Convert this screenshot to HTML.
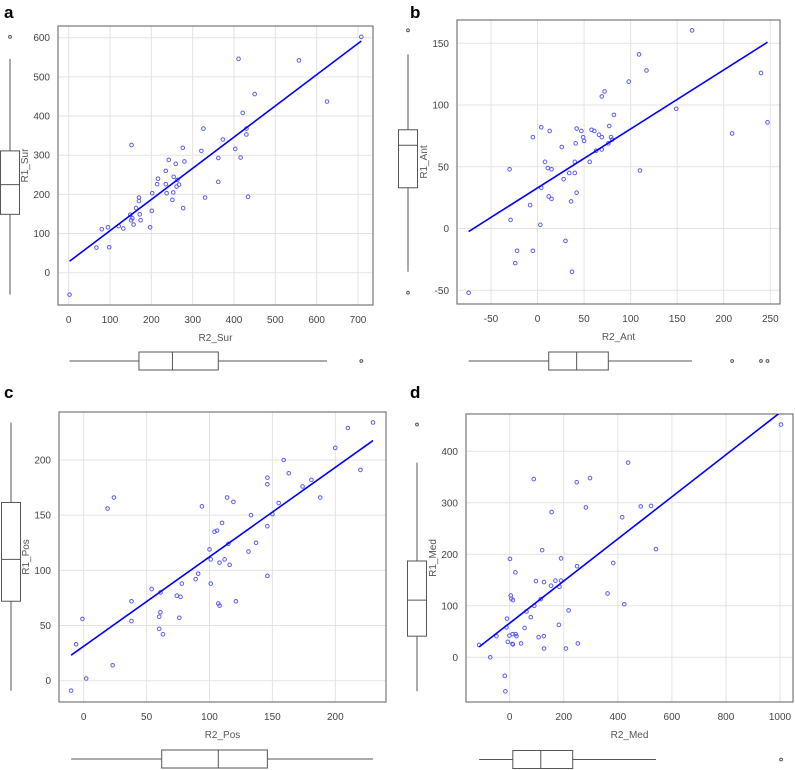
<!DOCTYPE html>
<html><head><meta charset="utf-8"><style>
html,body{margin:0;padding:0;background:#fff;}
svg{display:block;font-family:"Liberation Sans",sans-serif;}
</style></head><body>
<svg id="chart" width="795" height="770" viewBox="0 0 795 770"></svg>
<script>
const aX=[708,411,557,450,625,421,152,326,373,430,430,276,321,403,362,416,242,280,259,235,216,254,214,235,267,263,261,237,253,202,251,362,330,434,277,170,170,163,201,149,172,154,151,174,157,132,121,95,80,197,67,98,2];
const aY=[602,546,542,456,437,408,326,368,340,368,353,319,311,316,293,294,288,284,278,260,240,245,226,226,225,237,220,203,205,203,186,232,192,194,165,192,183,165,158,148,149,139,134,134,123,113,119,116,111,116,64,65,-56];
const bX=[166,109,117,240,98,72,69,149,247,209,82,77,58,61,42,4,13,47,66,-5,49,69,79,50,80,76,41,26,63,69,56,8,40,-30,11,15,110,34,40,28,4,42,12,15,36,-8,-29,3,30,-22,-5,-24,37,-74];
const bY=[160.5,141,128,126,119,111,107,97,86,77,92,83,80,79,81,82,79,79,76,74,74,74,74,71,72,69,69,66,63,64,54,54,54,48,49,48,47,45,45,40,33,29,26,24,22,19,7,3,-10,-18,-18,-28,-35,-52];
const cX=[230,210,200,159,220,163,146,181,146,174,188,24,114,19,119,155,94,133,150,110,146,106,104,115,137,100,131,101,112,108,116,91,89,146,101,78,54,61,74,77,38,121,107,108,61,60,76,38,-1,60,63,-6,23,2,-10];
const cY=[234,229,211,200,191,188,184,182,178,176,166,166,166,156,162,161,158,150,151,143,140,136,135,124,125,119,117,110,110,107,105,97,92,95,88,88,83,80,77,76,72,72,70,68,62,58,57,54,56,47,42,33,14,2,-9];
const dX=[1004,438,89,248,297,282,485,523,155,416,541,120,1,190,249,383,21,97,127,169,190,153,184,362,4,6,12,115,424,91,218,62,78,-10,182,-12,55,-1,11,22,25,-49,107,126,42,-7,10,12,252,127,208,-113,-72,-18,-16];
const dY=[452,378,346,340,348,291,293,294,282,272,210,208,191,192,177,183,165,148,146,149,149,139,137,124,120,114,111,113,103,100,91,89,78,75,63,58,57,42,45,45,41,41,39,41,27,30,26,25,27,17,17,24,0,-36,-66];
const aXTicks=[0,100,200,300,400,500,600,700], aYTicks=[0,100,200,300,400,500,600];
const bXTicks=[-50,0,50,100,150,200,250], bYTicks=[-50,0,50,100,150];
const cXTicks=[0,50,100,150,200], cYTicks=[0,50,100,150,200];
const dXTicks=[0,200,400,600,800,1000], dYTicks=[0,100,200,300,400];

const NS="http://www.w3.org/2000/svg";
const svg=document.getElementById('chart');
function mk(tag,attrs,parent){const e=document.createElementNS(NS,tag);for(const k in attrs)e.setAttribute(k,attrs[k]);(parent||svg).appendChild(e);return e;}
function lin(d0,d1,p0,p1){return v=>p0+(v-d0)*(p1-p0)/(d1-d0);}
function med(s){const n=s.length,h=Math.floor(n/2);return n%2?s[h]:(s[h-1]+s[h])/2;}
function bstats(arr){const s=[...arr].sort((a,b)=>a-b);const n=s.length;
 const n4=Math.floor((n+3)/2)/2;
 const d=[1,n4,(n+1)/2,n+1-n4,n];
 const at=p=>0.5*(s[Math.floor(p)-1]+s[Math.ceil(p)-1]);
 const q1=at(d[1]),m=at(d[2]),q3=at(d[3]),iqr=q3-q1;
 const inn=s.filter(v=>v>=q1-1.5*iqr&&v<=q3+1.5*iqr);return{q1,q3,m,lo:inn[0],hi:inn[inn.length-1],out:s.filter(v=>v<q1-1.5*iqr||v>q3+1.5*iqr)};}

const panels=[
 {id:'a',X:aX,Y:aY,xt:aXTicks,yt:aYTicks,box:[58,26,373,305],sx:lin(0,700,68.7,358),sy:lin(0,600,272.7,37.7),lbx:'R2_Sur',lby:'R1_Sur',lcx:10,bcy:361,letter:[4,18]},
 {id:'b',X:bX,Y:bY,xt:bXTicks,yt:bYTicks,box:[457,20,780,304],sx:lin(-50,250,491,770.3),sy:lin(-50,150,290.3,43.3),lbx:'R2_Ant',lby:'R1_Ant',lcx:408,bcy:361,letter:[410,18]},
 {id:'c',X:cX,Y:cY,xt:cXTicks,yt:cYTicks,box:[59,412,386,702],sx:lin(0,200,83.7,335.3),sy:lin(0,200,680.7,460),lbx:'R2_Pos',lby:'R1_Pos',lcx:11,bcy:759,letter:[4,398]},
 {id:'d',X:dX,Y:dY,xt:dXTicks,yt:dYTicks,box:[466,414,793,702],sx:lin(0,1000,509.7,780),sy:lin(0,400,657.3,451.3),lbx:'R2_Med',lby:'R1_Med',lcx:417,bcy:759.5,letter:[410,398]}
];

panels.forEach(P=>{
 const g=mk('g',{});
 
 
 const [x0,y0,x1,y1]=P.box;
 const lt=mk('text',{x:P.letter[0],y:P.letter[1],'font-size':17,'font-weight':'bold',fill:'#000'},g);lt.textContent=P.id;
 
 
 P.xt.forEach(t=>{const x=P.sx(t);
  const gl=mk('line',{x1:x,x2:x,y1:y0,y2:y1,stroke:'#e3e3e3','stroke-width':1},g);
  
  
  const tl=mk('text',{x:x,y:y1+18,'font-size':10,fill:'#444','text-anchor':'middle'},g);tl.textContent=t;
  
  
 });
 P.yt.forEach(t=>{const y=P.sy(t);
  const gl=mk('line',{x1:x0,x2:x1,y1:y,y2:y,stroke:'#e3e3e3','stroke-width':1},g);
  
  
  const tl=mk('text',{x:x0-8,y:y+3.5,'font-size':10,fill:'#444','text-anchor':'end'},g);tl.textContent=t;
  
  
 });
 const fr=mk('rect',{x:x0,y:y0,width:x1-x0,height:y1-y0,fill:'none',stroke:'#777','stroke-width':1.2},g);
 
 
 P.X.forEach((v,i)=>{
  const c=mk('circle',{cx:P.sx(v),cy:P.sy(P.Y[i]),r:1.8,fill:'none',stroke:'#5a5aff','stroke-width':1},g);
  
  
 });
 const n=P.X.length;let mx=0,my=0;P.X.forEach((v,i)=>{mx+=v;my+=P.Y[i];});mx/=n;my/=n;
 let sxy=0,sxx=0;P.X.forEach((v,i)=>{sxy+=(v-mx)*(P.Y[i]-my);sxx+=(v-mx)*(v-mx);});
 const b=sxy/sxx,a=my-b*mx;const xmin=Math.min(...P.X),xmax=Math.max(...P.X);
 const cp=mk('clipPath',{id:'clip'+P.id},g);mk('rect',{x:x0,y:y0,width:x1-x0,height:y1-y0},cp);
 const rl=mk('line',{x1:P.sx(xmin),y1:P.sy(a+b*xmin),x2:P.sx(xmax),y2:P.sy(a+b*xmax),stroke:'#0000ff','stroke-width':1.6,'clip-path':'url(#clip'+P.id+')'},g);
 
 
 const xl=mk('text',{x:(x0+x1)/2,y:y1+36,'font-size':10,fill:'#555','text-anchor':'middle'},g);xl.textContent=P.lbx;
 
 
 const yl=mk('text',{x:0,y:0,'font-size':10,fill:'#555','text-anchor':'middle',transform:`translate(${x0-30},${(y0+y1)/2}) rotate(-90)`},g);yl.textContent=P.lby;
 
 
 const sy=bstats(P.Y),cx=P.lcx,hw=9.5;
 const lb=mk('g',{stroke:'#555','stroke-width':1,fill:'none'},g);
 
 
 mk('line',{x1:cx,x2:cx,y1:P.sy(sy.hi),y2:P.sy(sy.q3)},lb);
 mk('line',{x1:cx,x2:cx,y1:P.sy(sy.q1),y2:P.sy(sy.lo)},lb);
 mk('rect',{x:cx-hw,y:P.sy(sy.q3),width:2*hw,height:P.sy(sy.q1)-P.sy(sy.q3),fill:'#fff'},lb);
 mk('line',{x1:cx-hw,x2:cx+hw,y1:P.sy(sy.m),y2:P.sy(sy.m)},lb);
 sy.out.forEach(v=>mk('circle',{cx:cx,cy:P.sy(v),r:1.4},lb));
 const sx=bstats(P.X),cy=P.bcy,hh=9;
 const bb=mk('g',{stroke:'#555','stroke-width':1,fill:'none'},g);
 
 
 mk('line',{y1:cy,y2:cy,x1:P.sx(sx.lo),x2:P.sx(sx.q1)},bb);
 mk('line',{y1:cy,y2:cy,x1:P.sx(sx.q3),x2:P.sx(sx.hi)},bb);
 mk('rect',{y:cy-hh,x:P.sx(sx.q1),height:2*hh,width:P.sx(sx.q3)-P.sx(sx.q1),fill:'#fff'},bb);
 mk('line',{y1:cy-hh,y2:cy+hh,x1:P.sx(sx.m),x2:P.sx(sx.m)},bb);
 sx.out.forEach(v=>mk('circle',{cy:cy,cx:P.sx(v),r:1.4},bb));
});
</script>
</body></html>
